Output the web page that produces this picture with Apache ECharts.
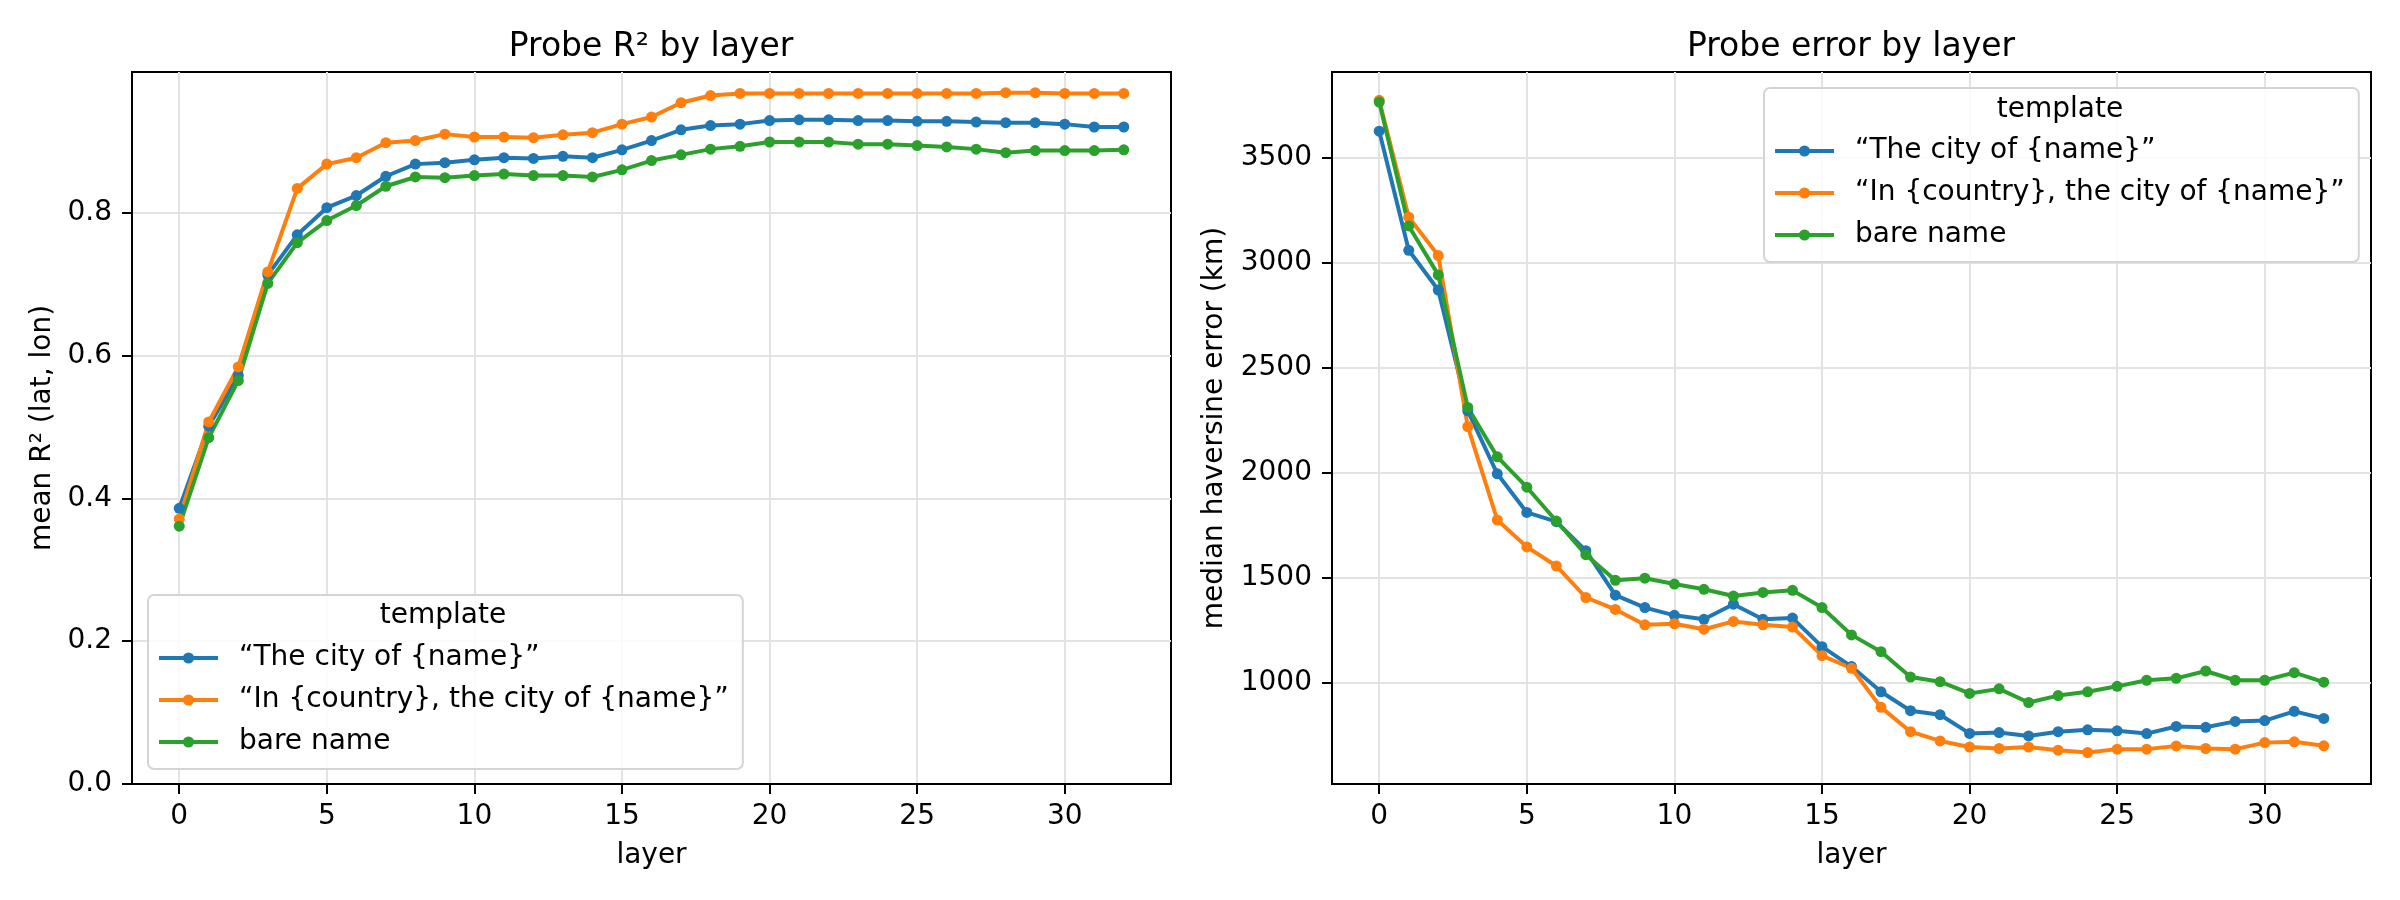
<!DOCTYPE html>
<html>
<head>
<meta charset="utf-8">
<script src="https://cdn.jsdelivr.net/npm/echarts@6/dist/echarts.min.js"></script>
<style>
  html, body { margin: 0; padding: 0; background: #fff; }
  #chart { width: 2400px; height: 900px; }
</style>
</head>
<body>
<div id="chart"></div>
<script>
// data
var layers = [0, 1, 2, 3, 4, 5, 6, 7, 8, 9, 10, 11, 12, 13, 14, 15, 16,
  17, 18, 19, 20, 21, 22, 23, 24, 25, 26, 27, 28, 29, 30, 31, 32]
var seriesNames = ['“The city of {name}”', '“In {country}, the city of {name}”', 'bare name']
var colors = ['#1f77b4', '#ff7f0e', '#2ca02c']

// mean R² (lat, lon)
var r2City = [0.386, 0.501, 0.572, 0.713, 0.769, 0.807, 0.824, 0.851, 0.868, 0.870, 0.874,
  0.877, 0.876, 0.879, 0.877, 0.888, 0.901, 0.916, 0.922, 0.924, 0.929, 0.930, 0.930,
  0.929, 0.929, 0.928, 0.928, 0.927, 0.926, 0.926, 0.924, 0.920, 0.920]
var r2Country = [0.371, 0.507, 0.584, 0.717, 0.834, 0.868, 0.877, 0.898, 0.901, 0.910, 0.906,
  0.906, 0.905, 0.909, 0.912, 0.924, 0.934, 0.954, 0.964, 0.967, 0.967, 0.967, 0.967,
  0.967, 0.967, 0.967, 0.967, 0.967, 0.968, 0.968, 0.967, 0.967, 0.967]
var r2Bare = [0.361, 0.485, 0.565, 0.701, 0.758, 0.789, 0.810, 0.837, 0.850, 0.849, 0.852,
  0.854, 0.852, 0.852, 0.850, 0.860, 0.873, 0.881, 0.889, 0.893, 0.899, 0.899, 0.899,
  0.896, 0.896, 0.894, 0.892, 0.889, 0.884, 0.887, 0.887, 0.887, 0.888]

// median haversine error (km)
var errCity = [3626, 3059, 2870, 2295, 1995, 1811, 1767, 1629, 1417, 1358, 1321, 1302, 1374,
  1302, 1308, 1172, 1077, 957, 867, 848, 759, 763, 747, 767, 776, 771, 758, 792, 788,
  816, 820, 864, 830]
var errCountry = [3773, 3217, 3034, 2220, 1775, 1647, 1556, 1406, 1349, 1276, 1281, 1255, 1292,
  1276, 1265, 1129, 1069, 883, 767, 723, 694, 687, 694, 679, 668, 684, 684, 699, 687,
  684, 715, 719, 700]
var errBare = [3765, 3175, 2942, 2311, 2076, 1931, 1770, 1610, 1488, 1498, 1470, 1445, 1413,
  1430, 1440, 1358, 1228, 1148, 1027, 1005, 949, 971, 906, 939, 957, 983, 1012, 1021, 1056,
  1012, 1012, 1048, 1003]

var xTicks = [0, 5, 10, 15, 20, 25, 30]
var r2Ticks = [0, 0.2, 0.4, 0.6, 0.8]
var errTicks = [1000, 1500, 2000, 2500, 3000, 3500]

var FONT = 'DejaVu Sans'
var FS = 28

function pairs(ys) {
  return layers.map(function (x, i) { return [x, ys[i]] })
}

function lineSeries(name, ys, idx, color) {
  return {
    name: name,
    type: 'line',
    xAxisIndex: idx,
    yAxisIndex: idx,
    data: pairs(ys),
    symbol: 'circle',
    symbolSize: 11,
    showSymbol: true,
    animation: false,
    color: color,
    lineStyle: { width: 4, color: color },
    itemStyle: { color: color }
  }
}

function xAxis(idx) {
  return {
    type: 'value',
    gridIndex: idx,
    min: -1.6,
    max: 33.6,
    name: 'layer',
    nameLocation: 'middle',
    nameGap: 58,
    nameTextStyle: { fontFamily: FONT, fontSize: FS, color: '#000' },
    axisLine: { show: true, onZero: false, lineStyle: { color: '#000', width: 2 } },
    axisTick: { show: true, length: 10, lineStyle: { color: '#000', width: 2 }, customValues: xTicks },
    axisLabel: { fontFamily: FONT, fontSize: FS, color: '#000', margin: 19, customValues: xTicks },
    splitLine: { show: true, lineStyle: { color: '#e3e3e3', width: 2 } }
  }
}

function yAxis(idx, min, max, ticks, name, gap, fmt) {
  return {
    type: 'value',
    gridIndex: idx,
    min: min,
    max: max,
    name: name,
    nameLocation: 'middle',
    nameGap: gap,
    nameTextStyle: { fontFamily: FONT, fontSize: FS, color: '#000' },
    axisLine: { show: true, onZero: false, lineStyle: { color: '#000', width: 2 } },
    axisTick: { show: true, length: 10, lineStyle: { color: '#000', width: 2 }, customValues: ticks },
    axisLabel: { fontFamily: FONT, fontSize: FS, color: '#000', margin: 20, customValues: ticks, formatter: fmt },
    splitLine: { show: true, lineStyle: { color: '#e3e3e3', width: 2 } }
  }
}

function legend(left, top) {
  return {
    orient: 'vertical',
    left: left,
    top: top,
    data: seriesNames,
    itemWidth: 59,
    itemHeight: 14,
    itemGap: 14,
    padding: [49, 14, 13, 9],
    backgroundColor: 'rgba(255,255,255,0.85)',
    borderColor: '#d4d4d4',
    borderWidth: 2,
    borderRadius: 6,
    lineStyle: { width: 4 },
    textStyle: { fontFamily: FONT, fontSize: FS, color: '#000', lineHeight: 28, padding: [0, 0, 0, 16] }
  }
}

var chart = echarts.init(document.getElementById('chart'), null, { renderer: 'canvas' })

var option = {
  backgroundColor: '#fff',
  animation: false,
  title: [
    { text: 'Probe R² by layer', left: 651, top: 30, textAlign: 'center', padding: 0,
      textStyle: { fontFamily: FONT, fontSize: 33, fontWeight: 'normal', color: '#000', lineHeight: 34 } },
    { text: 'Probe error by layer', left: 1851, top: 30, textAlign: 'center', padding: 0,
      textStyle: { fontFamily: FONT, fontSize: 33, fontWeight: 'normal', color: '#000', lineHeight: 34 } },
    { text: 'template', left: 443, top: 602, textAlign: 'center', padding: 0, z: 10,
      textStyle: { fontFamily: FONT, fontSize: FS, fontWeight: 'normal', color: '#000', lineHeight: 28 } },
    { text: 'template', left: 2060, top: 96, textAlign: 'center', padding: 0, z: 10,
      textStyle: { fontFamily: FONT, fontSize: FS, fontWeight: 'normal', color: '#000', lineHeight: 28 } }
  ],
  grid: [
    { left: 132, top: 72, width: 1039, height: 712, show: true, borderColor: '#000', borderWidth: 2, backgroundColor: 'transparent' },
    { left: 1332, top: 72, width: 1039, height: 712, show: true, borderColor: '#000', borderWidth: 2, backgroundColor: 'transparent' }
  ],
  xAxis: [xAxis(0), xAxis(1)],
  yAxis: [
    yAxis(0, 0, 0.997, r2Ticks, 'mean R² (lat, lon)', 75, function (v) { return v.toFixed(1) }),
    yAxis(1, 518, 3908, errTicks, 'median haversine error (km)', 103, function (v) { return String(v) })
  ],
  legend: [legend(148, 595), legend(1764, 88)],
  series: [
    lineSeries(seriesNames[0], r2City, 0, colors[0]),
    lineSeries(seriesNames[1], r2Country, 0, colors[1]),
    lineSeries(seriesNames[2], r2Bare, 0, colors[2]),
    lineSeries(seriesNames[0], errCity, 1, colors[0]),
    lineSeries(seriesNames[1], errCountry, 1, colors[1]),
    lineSeries(seriesNames[2], errBare, 1, colors[2])
  ]
}

chart.setOption(option)
</script>
</body>
</html>
